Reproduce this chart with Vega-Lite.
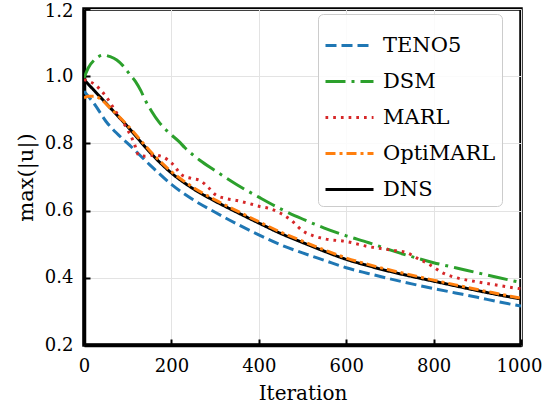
{
  "$schema": "https://vega.github.io/schema/vega-lite/v6.json",
  "width": 437,
  "height": 336,
  "autosize": {"type": "none"},
  "padding": {"left": 84, "top": 9, "right": 22, "bottom": 64},
  "background": "white",
  "config": {
    "font": "DejaVu Serif",
    "view": {"stroke": "black", "strokeWidth": 3.5},
    "axis": {
      "domainColor": "black",
      "domainWidth": 3.5,
      "gridColor": "#e3e3e3",
      "gridWidth": 1,
      "tickColor": "black",
      "tickWidth": 2,
      "tickSize": -6,
      "labelFlush": false,
      "labelFont": "DejaVu Serif",
      "labelFontSize": 18,
      "labelColor": "black",
      "titleFont": "DejaVu Serif",
      "titleFontSize": 20,
      "titleFontWeight": "normal",
      "titleColor": "black"
    },
    "legend": {
      "labelFont": "DejaVu Serif"
    }
  },
  "data": {
    "values": [
      {"s": "DNS", "t": 0, "v": 0.99}, {"s": "DNS", "t": 25, "v": 0.955}, {"s": "DNS", "t": 50, "v": 0.92},
      {"s": "DNS", "t": 75, "v": 0.885}, {"s": "DNS", "t": 100, "v": 0.85}, {"s": "DNS", "t": 125, "v": 0.812},
      {"s": "DNS", "t": 150, "v": 0.775}, {"s": "DNS", "t": 200, "v": 0.712}, {"s": "DNS", "t": 250, "v": 0.665},
      {"s": "DNS", "t": 300, "v": 0.628}, {"s": "DNS", "t": 350, "v": 0.595}, {"s": "DNS", "t": 400, "v": 0.563},
      {"s": "DNS", "t": 450, "v": 0.532}, {"s": "DNS", "t": 500, "v": 0.505}, {"s": "DNS", "t": 550, "v": 0.479},
      {"s": "DNS", "t": 600, "v": 0.455}, {"s": "DNS", "t": 650, "v": 0.436}, {"s": "DNS", "t": 700, "v": 0.419},
      {"s": "DNS", "t": 750, "v": 0.404}, {"s": "DNS", "t": 800, "v": 0.39}, {"s": "DNS", "t": 850, "v": 0.376},
      {"s": "DNS", "t": 900, "v": 0.362}, {"s": "DNS", "t": 950, "v": 0.349}, {"s": "DNS", "t": 1000, "v": 0.337},

      {"s": "TENO5", "t": 0, "v": 0.955}, {"s": "TENO5", "t": 25, "v": 0.915}, {"s": "TENO5", "t": 50, "v": 0.866},
      {"s": "TENO5", "t": 75, "v": 0.83}, {"s": "TENO5", "t": 100, "v": 0.8}, {"s": "TENO5", "t": 150, "v": 0.737},
      {"s": "TENO5", "t": 200, "v": 0.678}, {"s": "TENO5", "t": 250, "v": 0.632}, {"s": "TENO5", "t": 300, "v": 0.595},
      {"s": "TENO5", "t": 350, "v": 0.56}, {"s": "TENO5", "t": 400, "v": 0.528}, {"s": "TENO5", "t": 450, "v": 0.498},
      {"s": "TENO5", "t": 500, "v": 0.474}, {"s": "TENO5", "t": 550, "v": 0.452}, {"s": "TENO5", "t": 600, "v": 0.43},
      {"s": "TENO5", "t": 650, "v": 0.413}, {"s": "TENO5", "t": 700, "v": 0.397}, {"s": "TENO5", "t": 750, "v": 0.382},
      {"s": "TENO5", "t": 800, "v": 0.368}, {"s": "TENO5", "t": 850, "v": 0.355}, {"s": "TENO5", "t": 900, "v": 0.342},
      {"s": "TENO5", "t": 950, "v": 0.328}, {"s": "TENO5", "t": 1000, "v": 0.316},

      {"s": "DSM", "t": 0, "v": 0.995}, {"s": "DSM", "t": 10, "v": 1.025}, {"s": "DSM", "t": 25, "v": 1.05},
      {"s": "DSM", "t": 45, "v": 1.063}, {"s": "DSM", "t": 60, "v": 1.058}, {"s": "DSM", "t": 75, "v": 1.048},
      {"s": "DSM", "t": 90, "v": 1.03}, {"s": "DSM", "t": 105, "v": 1.005}, {"s": "DSM", "t": 118, "v": 0.984},
      {"s": "DSM", "t": 130, "v": 0.957}, {"s": "DSM", "t": 140, "v": 0.929}, {"s": "DSM", "t": 155, "v": 0.895},
      {"s": "DSM", "t": 170, "v": 0.866}, {"s": "DSM", "t": 196, "v": 0.83}, {"s": "DSM", "t": 217, "v": 0.806},
      {"s": "DSM", "t": 231, "v": 0.787}, {"s": "DSM", "t": 265, "v": 0.75}, {"s": "DSM", "t": 300, "v": 0.719},
      {"s": "DSM", "t": 350, "v": 0.677}, {"s": "DSM", "t": 400, "v": 0.64}, {"s": "DSM", "t": 450, "v": 0.605},
      {"s": "DSM", "t": 500, "v": 0.575}, {"s": "DSM", "t": 550, "v": 0.548}, {"s": "DSM", "t": 600, "v": 0.525},
      {"s": "DSM", "t": 650, "v": 0.505}, {"s": "DSM", "t": 700, "v": 0.483}, {"s": "DSM", "t": 750, "v": 0.463},
      {"s": "DSM", "t": 800, "v": 0.445}, {"s": "DSM", "t": 850, "v": 0.43}, {"s": "DSM", "t": 900, "v": 0.415},
      {"s": "DSM", "t": 950, "v": 0.4}, {"s": "DSM", "t": 1000, "v": 0.386},

      {"s": "MARL", "t": 0, "v": 0.99}, {"s": "MARL", "t": 25, "v": 0.975}, {"s": "MARL", "t": 50, "v": 0.94},
      {"s": "MARL", "t": 75, "v": 0.89}, {"s": "MARL", "t": 100, "v": 0.84}, {"s": "MARL", "t": 115, "v": 0.8},
      {"s": "MARL", "t": 125, "v": 0.765}, {"s": "MARL", "t": 140, "v": 0.762}, {"s": "MARL", "t": 160, "v": 0.765},
      {"s": "MARL", "t": 180, "v": 0.76}, {"s": "MARL", "t": 200, "v": 0.742}, {"s": "MARL", "t": 225, "v": 0.705},
      {"s": "MARL", "t": 245, "v": 0.696}, {"s": "MARL", "t": 265, "v": 0.69}, {"s": "MARL", "t": 285, "v": 0.668},
      {"s": "MARL", "t": 300, "v": 0.648}, {"s": "MARL", "t": 325, "v": 0.636}, {"s": "MARL", "t": 350, "v": 0.63},
      {"s": "MARL", "t": 375, "v": 0.622}, {"s": "MARL", "t": 400, "v": 0.613}, {"s": "MARL", "t": 425, "v": 0.606},
      {"s": "MARL", "t": 450, "v": 0.592}, {"s": "MARL", "t": 475, "v": 0.57}, {"s": "MARL", "t": 500, "v": 0.54},
      {"s": "MARL", "t": 525, "v": 0.525}, {"s": "MARL", "t": 550, "v": 0.516}, {"s": "MARL", "t": 600, "v": 0.508},
      {"s": "MARL", "t": 650, "v": 0.493}, {"s": "MARL", "t": 700, "v": 0.483}, {"s": "MARL", "t": 740, "v": 0.474},
      {"s": "MARL", "t": 760, "v": 0.46}, {"s": "MARL", "t": 790, "v": 0.44}, {"s": "MARL", "t": 820, "v": 0.415},
      {"s": "MARL", "t": 850, "v": 0.401}, {"s": "MARL", "t": 900, "v": 0.388}, {"s": "MARL", "t": 950, "v": 0.377},
      {"s": "MARL", "t": 1000, "v": 0.367},

      {"s": "OptiMARL", "t": 0, "v": 0.935}, {"s": "OptiMARL", "t": 10, "v": 0.94}, {"s": "OptiMARL", "t": 25, "v": 0.94},
      {"s": "OptiMARL", "t": 40, "v": 0.93}, {"s": "OptiMARL", "t": 60, "v": 0.905}, {"s": "OptiMARL", "t": 80, "v": 0.88},
      {"s": "OptiMARL", "t": 100, "v": 0.853}, {"s": "OptiMARL", "t": 125, "v": 0.816}, {"s": "OptiMARL", "t": 150, "v": 0.779},
      {"s": "OptiMARL", "t": 200, "v": 0.716}, {"s": "OptiMARL", "t": 250, "v": 0.669}, {"s": "OptiMARL", "t": 300, "v": 0.632},
      {"s": "OptiMARL", "t": 350, "v": 0.599}, {"s": "OptiMARL", "t": 400, "v": 0.567}, {"s": "OptiMARL", "t": 450, "v": 0.536},
      {"s": "OptiMARL", "t": 500, "v": 0.509}, {"s": "OptiMARL", "t": 550, "v": 0.483}, {"s": "OptiMARL", "t": 600, "v": 0.459},
      {"s": "OptiMARL", "t": 650, "v": 0.44}, {"s": "OptiMARL", "t": 700, "v": 0.423}, {"s": "OptiMARL", "t": 750, "v": 0.408},
      {"s": "OptiMARL", "t": 800, "v": 0.393}, {"s": "OptiMARL", "t": 850, "v": 0.379}, {"s": "OptiMARL", "t": 900, "v": 0.365},
      {"s": "OptiMARL", "t": 950, "v": 0.352}, {"s": "OptiMARL", "t": 1000, "v": 0.339}
    ]
  },
  "mark": {"type": "line", "interpolate": "monotone", "clip": true},
  "encoding": {
    "x": {
      "field": "t", "type": "quantitative",
      "scale": {"domain": [0, 1000], "nice": false},
      "axis": {
        "values": [0, 200, 400, 600, 800, 1000], "format": "d", "title": "Iteration",
        "labelPadding": 18, "titlePadding": 8,
        "labelOffset": {"condition": {"test": "datum.value == 1000", "value": -2}, "value": 0}
      }
    },
    "y": {
      "field": "v", "type": "quantitative",
      "scale": {"domain": [0.2, 1.2], "nice": false, "zero": false},
      "axis": {
        "values": [0.2, 0.4, 0.6, 0.8, 1.0, 1.2], "format": ".1f", "title": "max(|u|)",
        "titleFontSize": 21, "labelPadding": 17, "titlePadding": 8,
        "labelOffset": {"condition": {"test": "datum.value == 1.2", "value": 2}, "value": 0}
      }
    },
    "color": {
      "field": "s", "type": "nominal",
      "scale": {
        "domain": ["TENO5", "DSM", "MARL", "OptiMARL", "DNS"],
        "range": ["#1f77b4", "#2ca02c", "#d62728", "#ff7f0e", "#000000"]
      },
      "legend": {
        "title": null,
        "orient": "none",
        "legendX": 234,
        "legendY": 5,
        "symbolType": "stroke",
        "symbolSize": 2304,
        "labelFontSize": 21,
        "labelFont": "DejaVu Serif",
        "labelColor": "black",
        "labelOffset": 8,
        "fillColor": "rgba(255,255,255,0.85)",
        "strokeColor": "#cccccc",
        "cornerRadius": 5,
        "padding": 6,
        "rowPadding": 0
      }
    },
    "strokeDash": {
      "field": "s", "type": "nominal",
      "scale": {
        "domain": ["TENO5", "DSM", "MARL", "OptiMARL", "DNS"],
        "range": [[11, 5], [20, 6, 3, 6], [2.7, 5], [10, 4, 3, 4], [1, 0]]
      },
      "legend": null
    },
    "strokeWidth": {
      "field": "s", "type": "nominal",
      "scale": {
        "domain": ["TENO5", "DSM", "MARL", "OptiMARL", "DNS"],
        "range": [3, 3, 3, 3, 5]
      },
      "legend": null
    }
  }
}
